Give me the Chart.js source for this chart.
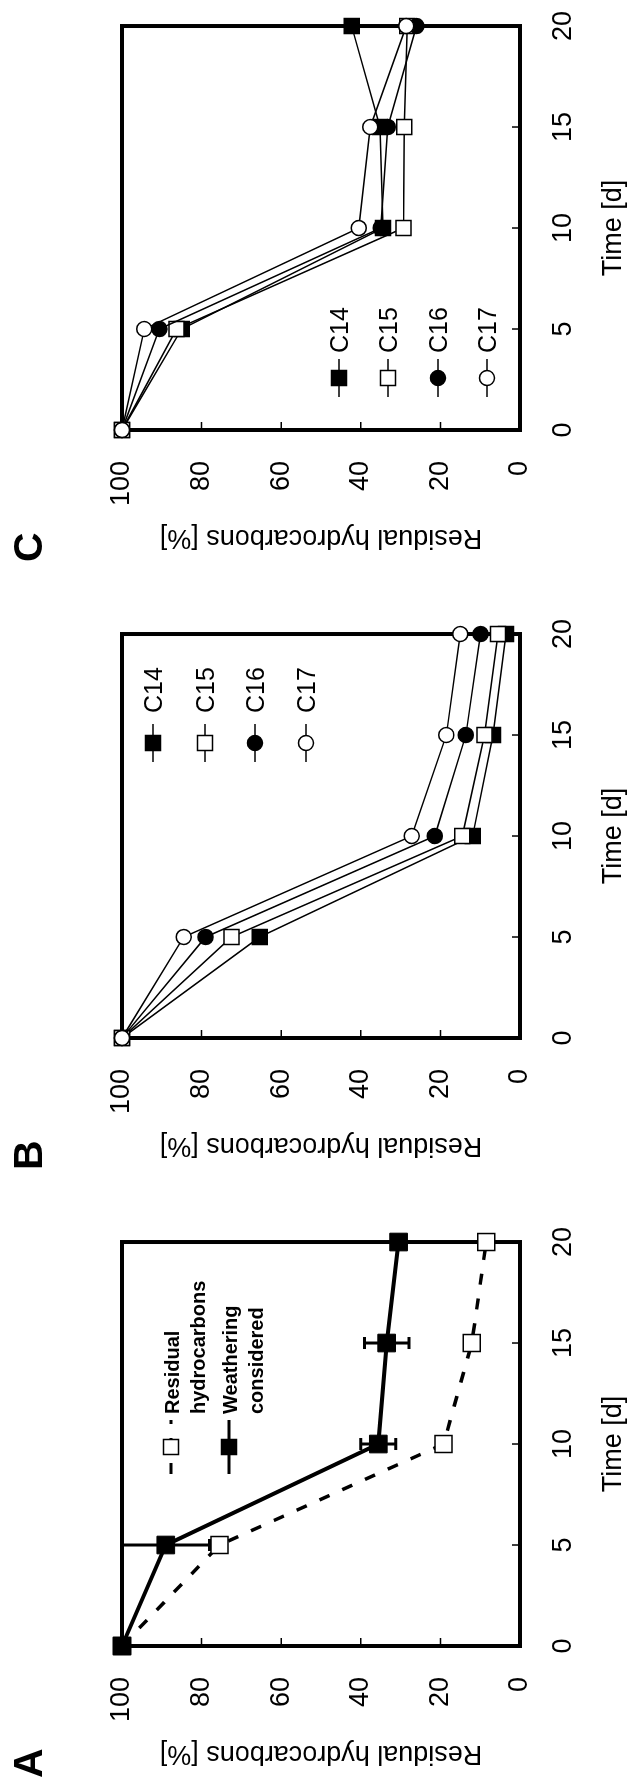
<!DOCTYPE html>
<html lang="en">
  <head>
    <meta charset="UTF-8" />
    <title>Residual hydrocarbons over time</title>
    <script src="https://cdn.jsdelivr.net/npm/chart.js"></script>
    <style>
      html,
      body {
        margin: 0;
        padding: 0;
        width: 633px;
        height: 1786px;
        overflow: hidden;
        background-color: #fff;
      }
      /* the three panels are laid out side by side, then the whole figure is
         turned a quarter turn to the left, like the printed page */
      #figure {
        position: absolute;
        left: 0;
        top: 0;
        width: 1786px;
        height: 633px;
        transform-origin: 0 0;
        transform: translateY(1786px) rotate(-90deg);
      }
      .panel {
        position: absolute;
        top: 0;
        width: 586px;
        height: 633px;
      }
      .panel canvas {
        width: 586px;
        height: 633px;
      }
    </style>
  </head>
  <body>
    <div id="figure">
      <div class="panel" style="left: 0">
        <canvas id="chartA" width="586" height="633"></canvas>
      </div>
      <div class="panel" style="left: 608px">
        <canvas id="chartB" width="586" height="633"></canvas>
      </div>
      <div class="panel" style="left: 1216px">
        <canvas id="chartC" width="586" height="633"></canvas>
      </div>
    </div>

    <script>
      // Time axis and residual axis
      const days = [0, 5, 10, 15, 20];
      const timeTicks = [0, 5, 10, 15, 20];
      const residualTicks = [0, 20, 40, 60, 80, 100];

      // Panel A
      const residualA = [100, 75.5, 19.2, 12.1, 8.5];
      const weatheredA = [100, 89, 35.6, 33.5, 30.5];
      const weatheredErrA = [0, 11, 4.4, 5.6, 0];

      // Panel B
      const c14B = [100, 65.4, 11.9, 6.8, 3.5];
      const c15B = [100, 72.5, 14.5, 8.9, 5.5];
      const c16B = [100, 79, 21.4, 13.6, 9.9];
      const c17B = [100, 84.5, 27.2, 18.5, 15];

      // Panel C
      const c14C = [100, 85, 34.4, 35.2, 42.3];
      const c15C = [100, 86.3, 29.3, 29.1, 28.3];
      const c16C = [100, 90.6, 35, 33.2, 26];
      const c17C = [100, 94.4, 40.5, 37.6, 28.6];

      const FONT = 'Arial, "Liberation Sans", Helvetica, sans-serif';
      Chart.defaults.font.family = FONT;
      Chart.defaults.color = "#000";

      function points(values) {
        return days.map((d, i) => ({ x: d, y: values[i] }));
      }

      // thin lines with markers (panels B and C)
      function series(label, values, style, filled, order) {
        return {
          label: label,
          data: points(values),
          borderColor: "#000",
          borderWidth: 1.5,
          pointStyle: style,
          pointRadius: style === "rect" ? 10.6 : 7.5,
          pointBackgroundColor: filled ? "#000" : "#fff",
          pointBorderColor: "#000",
          pointBorderWidth: 1.5,
          order: order,
          clip: false,
        };
      }

      // plot frame and inward tick marks
      const framePlugin = {
        id: "frame",
        beforeDatasetsDraw(chart) {
          const { ctx, chartArea: a, scales } = chart;
          ctx.save();
          ctx.strokeStyle = "#000";
          ctx.lineWidth = 1.5;
          ctx.beginPath();
          timeTicks.slice(1, -1).forEach((v) => {
            const px = scales.x.getPixelForValue(v);
            ctx.moveTo(px, a.bottom);
            ctx.lineTo(px, a.bottom - 8);
          });
          residualTicks.slice(1, -1).forEach((v) => {
            const py = scales.y.getPixelForValue(v);
            ctx.moveTo(a.left, py);
            ctx.lineTo(a.left + 8, py);
          });
          ctx.stroke();
          ctx.lineWidth = 4;
          ctx.strokeRect(a.left, a.top, a.width, a.height);
          ctx.restore();
        },
      };

      // vertical error bars with caps
      const errorPlugin = {
        id: "errorBars",
        beforeDatasetsDraw(chart, args, opts) {
          if (!opts.errors) return;
          const { ctx, scales } = chart;
          const values = chart.data.datasets[opts.ds].data;
          ctx.save();
          ctx.strokeStyle = "#000";
          ctx.lineWidth = 3;
          values.forEach((p, i) => {
            const err = opts.errors[i];
            if (!err) return;
            const px = scales.x.getPixelForValue(p.x);
            const hi = scales.y.getPixelForValue(p.y + err);
            const lo = scales.y.getPixelForValue(p.y - err);
            ctx.beginPath();
            ctx.moveTo(px, hi);
            ctx.lineTo(px, lo);
            ctx.moveTo(px - 6, hi);
            ctx.lineTo(px + 6, hi);
            ctx.moveTo(px - 6, lo);
            ctx.lineTo(px + 6, lo);
            ctx.stroke();
          });
          ctx.restore();
        },
      };

      // key drawn inside the plot area
      const keyPlugin = {
        id: "key",
        afterDatasetsDraw(chart, args, o) {
          const { ctx, chartArea: a } = chart;
          const lx = a.left + o.x;
          o.entries.forEach((e) => {
            const ds = chart.data.datasets[e.ds];
            const ly = a.top + e.y;
            ctx.save();
            ctx.strokeStyle = "#000";
            ctx.lineWidth = o.lineWidth;
            ctx.setLineDash(ds.borderDash || []);
            ctx.beginPath();
            ctx.moveTo(lx - o.half, ly);
            ctx.lineTo(lx + o.half, ly);
            ctx.stroke();
            ctx.setLineDash([]);
            ctx.beginPath();
            if (ds.pointStyle === "circle") {
              ctx.arc(lx, ly, o.size / 2, 0, Math.PI * 2);
            } else {
              ctx.rect(lx - o.size / 2, ly - o.size / 2, o.size, o.size);
            }
            ctx.fillStyle = ds.pointBackgroundColor;
            ctx.fill();
            ctx.lineWidth = 1.5;
            ctx.stroke();
            ctx.fillStyle = "#000";
            ctx.font = o.font;
            ctx.textAlign = "left";
            ctx.textBaseline = "middle";
            e.lines.forEach((t, i) => {
              ctx.fillText(t, a.left + o.textX, ly + 2 + i * o.lineGap);
            });
            ctx.restore();
          });
        },
      };

      // panel letter in the top left corner
      const letterPlugin = {
        id: "letter",
        afterDraw(chart, args, o) {
          const ctx = chart.ctx;
          ctx.save();
          ctx.fillStyle = "#000";
          ctx.font = "bold 41px " + FONT;
          ctx.textAlign = "left";
          ctx.textBaseline = "alphabetic";
          ctx.fillText(o.text, 8, 42);
          ctx.restore();
        },
      };

      function makePanel(id, letter, datasets, key, errors) {
        return new Chart(document.getElementById(id), {
          type: "line",
          data: { datasets: datasets },
          plugins: [framePlugin, errorPlugin, keyPlugin, letterPlugin],
          options: {
            responsive: false,
            animation: false,
            devicePixelRatio: 1,
            layout: { padding: { top: 122, right: 10, bottom: 0, left: 0 } },
            scales: {
              x: {
                type: "linear",
                min: 0,
                max: 20,
                afterBuildTicks: (s) => {
                  s.ticks = timeTicks.map((v) => ({ value: v }));
                },
                afterFit: (s) => {
                  s.height = 113;
                },
                grid: { display: false, drawTicks: false },
                border: { display: false },
                ticks: { padding: 27, font: { size: 27 } },
                title: {
                  display: true,
                  text: "Time [d]",
                  font: { size: 27 },
                  padding: { top: 0, bottom: 3 },
                },
              },
              y: {
                type: "linear",
                min: 0,
                max: 100,
                afterBuildTicks: (s) => {
                  s.ticks = residualTicks.map((v) => ({ value: v }));
                },
                afterFit: (s) => {
                  s.width = 140;
                },
                grid: { display: false, drawTicks: false },
                border: { display: false },
                ticks: { padding: 31, font: { size: 27 } },
                title: {
                  display: true,
                  text: "Residual hydrocarbons [%]",
                  font: { size: 27 },
                  padding: { top: 16, bottom: 0 },
                },
              },
            },
            plugins: {
              legend: { display: false },
              tooltip: { enabled: false },
              key: key,
              errorBars: errors || {},
              letter: { text: letter },
            },
          },
        });
      }

      // Panel A: plain residuals (dashed) and weathering corrected (solid)
      makePanel(
        "chartA",
        "A",
        [
          {
            label: "Residual hydrocarbons",
            data: points(residualA),
            borderColor: "#000",
            borderWidth: 3.5,
            borderDash: [11, 14],
            pointStyle: "rect",
            pointRadius: 12,
            pointBackgroundColor: "#fff",
            pointBorderColor: "#000",
            pointBorderWidth: 1.5,
            order: 1,
            clip: false,
          },
          {
            label: "Weathering considered",
            data: points(weatheredA),
            borderColor: "#000",
            borderWidth: 4,
            pointStyle: "rect",
            pointRadius: 12.5,
            pointBackgroundColor: "#000",
            pointBorderColor: "#000",
            pointBorderWidth: 1,
            order: 0,
            clip: false,
          },
        ],
        {
          x: 199,
          half: 27,
          textX: 232,
          size: 15,
          lineWidth: 3,
          lineGap: 26,
          font: "bold 20px " + FONT,
          entries: [
            { ds: 0, y: 49, lines: ["Residual", "hydrocarbons"] },
            { ds: 1, y: 107, lines: ["Weathering", "considered"] },
          ],
        },
        { ds: 1, errors: weatheredErrA }
      );

      // Panel B
      makePanel(
        "chartB",
        "B",
        [
          series("C14", c14B, "rect", true, 3),
          series("C15", c15B, "rect", false, 2),
          series("C16", c16B, "circle", true, 1),
          series("C17", c17B, "circle", false, 0),
        ],
        {
          x: 295,
          half: 19,
          textX: 325,
          size: 15,
          lineWidth: 1.5,
          lineGap: 0,
          font: "25px " + FONT,
          entries: [
            { ds: 0, y: 31, lines: ["C14"] },
            { ds: 1, y: 83, lines: ["C15"] },
            { ds: 2, y: 133, lines: ["C16"] },
            { ds: 3, y: 184, lines: ["C17"] },
          ],
        }
      );

      // Panel C
      makePanel(
        "chartC",
        "C",
        [
          series("C14", c14C, "rect", true, 3),
          series("C15", c15C, "rect", false, 2),
          series("C16", c16C, "circle", true, 1),
          series("C17", c17C, "circle", false, 0),
        ],
        {
          x: 52,
          half: 19,
          textX: 77,
          size: 15,
          lineWidth: 1.5,
          lineGap: 0,
          font: "25px " + FONT,
          entries: [
            { ds: 0, y: 217, lines: ["C14"] },
            { ds: 1, y: 266, lines: ["C15"] },
            { ds: 2, y: 316, lines: ["C16"] },
            { ds: 3, y: 365, lines: ["C17"] },
          ],
        }
      );
    </script>
  </body>
</html>
